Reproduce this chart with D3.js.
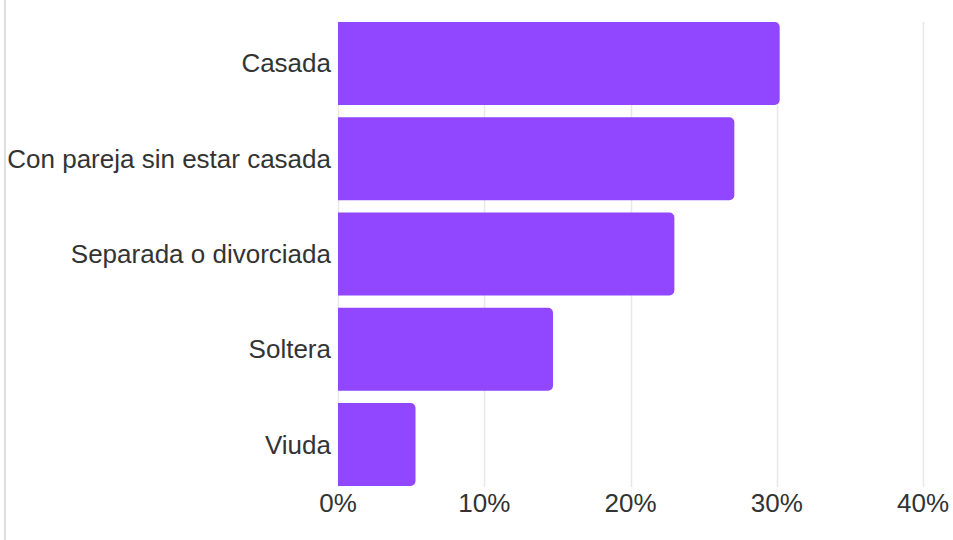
<!DOCTYPE html>
<html>
<head>
<meta charset="utf-8">
<script src="https://cdn.jsdelivr.net/npm/d3@7"></script>
<style>
  html, body { margin: 0; padding: 0; background: #fff; }
  svg { display: block; }
  text { font-family: "Liberation Sans", Arial, sans-serif; fill: #333; }
</style>
</head>
<body>
<svg id="chart" width="953" height="540"></svg>
<script>
// Estado civil: porcentaje por categoría
const categories = ["Casada", "Con pareja sin estar casada", "Separada o divorciada", "Soltera", "Viuda"];
const values = [30.2, 27.1, 23.0, 14.7, 5.3];
const tickValues = [0, 10, 20, 30, 40];

const svg = d3.select("#chart");
const W = 953, H = 540;
const plotLeft = 338, plotRight = 923, plotTop = 22, plotBottom = 486;

const x = d3.scaleLinear().domain([0, 40]).range([plotLeft, plotRight]);
const y = d3.scaleBand().domain(categories).range([plotTop, plotBottom]).paddingInner(0.13).paddingOuter(0);

// left border of the panel
svg.append("rect").attr("x", 4).attr("y", 0).attr("width", 2).attr("height", H).attr("fill", "#dedede");

// vertical gridlines
svg.append("g").selectAll("line").data(tickValues).join("line")
  .attr("x1", d => Math.round(x(d)) + 0.5).attr("x2", d => Math.round(x(d)) + 0.5)
  .attr("y1", plotTop).attr("y2", plotBottom + 1)
  .attr("stroke", "#e8e8e8").attr("stroke-width", 1.5);

// bars: square on the left, rounded on the right
const r = 5;
svg.append("g").selectAll("path").data(categories).join("path")
  .attr("fill", "#9146ff")
  .attr("d", (c, i) => {
    const x0 = x(0), x1 = x(values[i]), y0 = y(c), h = y.bandwidth();
    const p = d3.path();
    p.moveTo(x0, y0);
    p.lineTo(x1 - r, y0);
    p.arcTo(x1, y0, x1, y0 + r, r);
    p.lineTo(x1, y0 + h - r);
    p.arcTo(x1, y0 + h, x1 - r, y0 + h, r);
    p.lineTo(x0, y0 + h);
    p.closePath();
    return p.toString();
  });

// category labels
svg.append("g").selectAll("text").data(categories).join("text")
  .attr("x", plotLeft - 7)
  .attr("y", c => y(c) + y.bandwidth() / 2)
  .attr("text-anchor", "end")
  .attr("dominant-baseline", "central")
  .attr("font-size", 26)
  .text(c => c);

// x axis tick labels
svg.append("g").selectAll("text").data(tickValues).join("text")
  .attr("x", d => x(d))
  .attr("y", 503)
  .attr("text-anchor", "middle")
  .attr("dominant-baseline", "central")
  .attr("font-size", 26)
  .text(d => d + "%");
</script>
</body>
</html>
